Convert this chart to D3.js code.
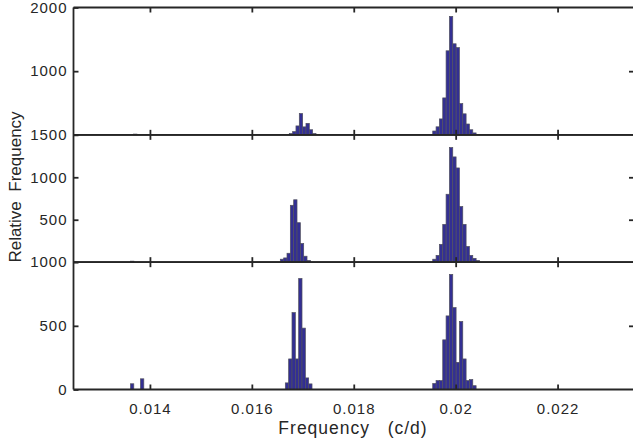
<!DOCTYPE html>
<html>
<head>
<meta charset="utf-8">
<script src="https://cdn.jsdelivr.net/npm/d3@7"></script>
<style>
  body { margin: 0; background: #fff; }
  svg { display: block; font-family: "Liberation Sans", Arial, sans-serif; }
</style>
</head>
<body>
<div id="chart"></div>
<script>
const width = 633, height = 443;
const xTicks = [0.014, 0.016, 0.018, 0.02, 0.022];
const binWidth = 0.0000655;

// histogram clusters per panel: start of the first bin and counts
const topStarts = [0.01368, 0.016735, 0.01955];
const topCounts = [
    [12],
    [20, 50, 140, 335, 125, 180, 80, 20],
    [60, 126, 250, 580, 1320, 1860, 1430, 1370, 490, 330, 170, 80, 30]
];
const midStarts = [0.01362, 0.016559, 0.01955];
const midCounts = [
    [12],
    [35, 50, 105, 670, 735, 465, 220, 70, 20],
    [35, 80, 210, 445, 800, 1350, 1240, 1110, 655, 445, 185, 80, 45, 20]
];
const botStarts = [0.013618, 0.016657, 0.01955];
const botCounts = [
    [45, 0, 0, 84],
    [52, 240, 604, 240, 872, 482, 91, 44],
    [47, 70, 70, 390, 578, 904, 643, 213, 534, 240, 70, 78, 30]
];

const yMax = [2000, 1500, 1000];
const yTickVals = [[1000, 2000], [500, 1000, 1500], [0, 500, 1000]];
const rightTickVals = [[1000], [500, 1000], [500]];

const plotLeft = 73.5, plotRight = 634;
const plotTop = 7.5, plotBottom = 389.5;
const panelH = (plotBottom - plotTop) / 3;
const axisColor = "#262626";
const barFill = "#332f93", barStroke = "#50505e";

const svg = d3.select("#chart").append("svg")
    .attr("width", width)
    .attr("height", height);

const x = d3.scaleLinear().domain([0.0125, 0.0235]).range([plotLeft, plotRight]);

const panels = [
    { starts: topStarts, counts: topCounts },
    { starts: midStarts, counts: midCounts },
    { starts: botStarts, counts: botCounts }
];

const styleText = sel => sel
    .attr("font-size", 15)
    .attr("letter-spacing", 1)
    .attr("fill", "#262626")
    .attr("font-family", "Liberation Sans, Arial, sans-serif");

panels.forEach((p, i) => {
    const y0 = plotTop + i * panelH;
    const y = d3.scaleLinear().domain([0, yMax[i]]).range([y0 + panelH, y0]);
    const g = svg.append("g");

    const bins = [];
    p.starts.forEach((s, k) => {
        p.counts[k].forEach((c, j) => {
            if (c > 0) bins.push({ x0: s + j * binWidth, x1: s + (j + 1) * binWidth, n: c });
        });
    });

    g.selectAll("rect").data(bins).join("rect")
        .attr("x", d => x(d.x0))
        .attr("width", d => x(d.x1) - x(d.x0))
        .attr("y", d => y(d.n))
        .attr("height", d => y(0) - y(d.n))
        .attr("fill", barFill)
        .attr("stroke", barStroke)
        .attr("stroke-width", 0.7);

    // left axis, ticks pointing inward
    const ya = g.append("g")
        .attr("transform", `translate(${plotLeft},0)`)
        .call(d3.axisLeft(y).tickValues(yTickVals[i]).tickFormat(d3.format("d"))
            .tickSize(-5).tickSizeOuter(0).tickPadding(6));
    ya.select(".domain").remove();
    ya.selectAll("line").attr("stroke", axisColor).attr("stroke-width", 1.8);
    ya.selectAll("text").call(styleText);

    // right ticks
    const ra = g.append("g")
        .attr("transform", `translate(${plotRight},0)`)
        .call(d3.axisRight(y).tickValues(rightTickVals[i]).tickSize(-5).tickFormat(""));
    ra.select(".domain").remove();
    ra.selectAll("line").attr("stroke", axisColor).attr("stroke-width", 1.8);

    // x ticks on top and bottom edges of each panel
    const xb = g.append("g")
        .attr("transform", `translate(0,${y0 + panelH})`)
        .call(d3.axisBottom(x).tickValues(xTicks).tickSize(-5).tickSizeOuter(0)
            .tickFormat(i === 2 ? d3.format("") : "").tickPadding(13.5));
    xb.select(".domain").remove();
    xb.selectAll("line").attr("stroke", axisColor).attr("stroke-width", 1.8);
    xb.selectAll("text").call(styleText);

    const xt = g.append("g")
        .attr("transform", `translate(0,${y0})`)
        .call(d3.axisTop(x).tickValues(xTicks).tickSize(-5).tickSizeOuter(0).tickFormat(""));
    xt.select(".domain").remove();
    xt.selectAll("line").attr("stroke", axisColor).attr("stroke-width", 1.8);

    // panel edges
    [y0, y0 + panelH].forEach(yy => {
        g.append("line")
            .attr("x1", plotLeft).attr("x2", plotRight)
            .attr("y1", yy).attr("y2", yy)
            .attr("stroke", axisColor).attr("stroke-width", 1.8);
    });
});

svg.append("line")
    .attr("x1", plotLeft).attr("x2", plotLeft)
    .attr("y1", plotTop).attr("y2", plotBottom)
    .attr("stroke", axisColor).attr("stroke-width", 1.8);

svg.append("text")
    .attr("x", 353).attr("y", 434)
    .attr("text-anchor", "middle")
    .attr("font-size", 17.5).attr("letter-spacing", 1).attr("fill", "#262626")
    .style("white-space", "pre")
    .text("Frequency   (c/d)");

svg.append("text")
    .attr("transform", "translate(21,187) rotate(-90)")
    .attr("text-anchor", "middle")
    .attr("font-size", 17).attr("fill", "#262626")
    .style("white-space", "pre")
    .text("Relative  Frequency");
</script>
</body>
</html>
